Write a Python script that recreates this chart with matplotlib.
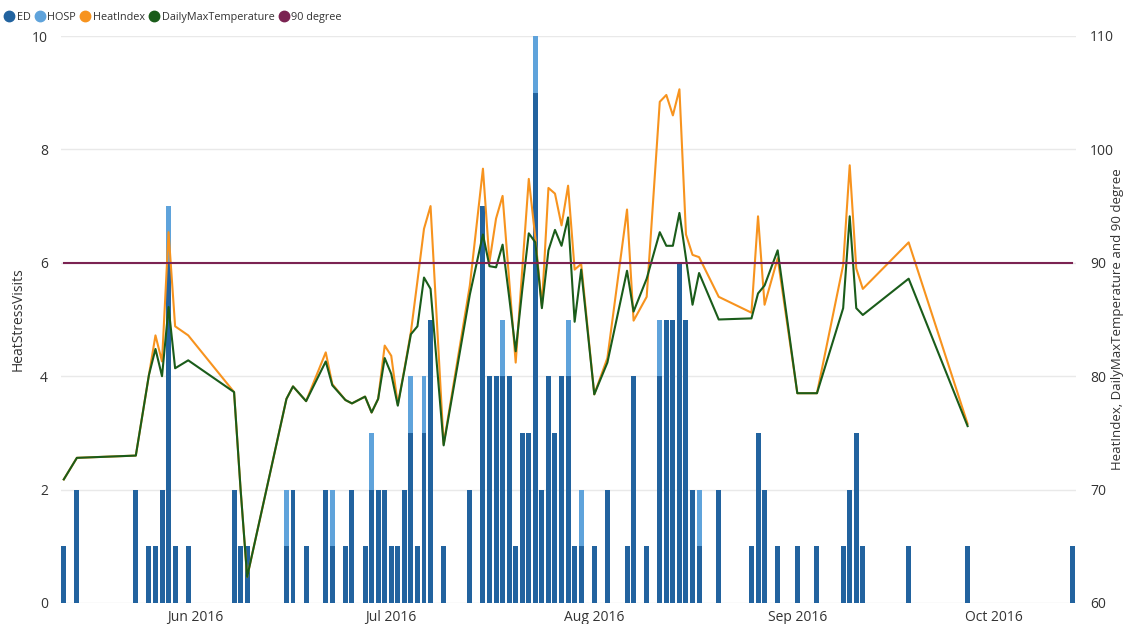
import numpy as np
import pandas as pd
import matplotlib
matplotlib.use("Agg")
import matplotlib.pyplot as plt
import matplotlib.dates as mdates
from matplotlib.lines import Line2D

plt.rcParams['font.family'] = ['Open Sans', 'DejaVu Sans']

dates = ["2016-05-12", "2016-05-14", "2016-05-23", "2016-05-25", "2016-05-26", "2016-05-27",
         "2016-05-28", "2016-05-29", "2016-05-31",
         "2016-06-07", "2016-06-08", "2016-06-09", "2016-06-15", "2016-06-16", "2016-06-18",
         "2016-06-21", "2016-06-22", "2016-06-24", "2016-06-25", "2016-06-27", "2016-06-28",
         "2016-06-29", "2016-06-30",
         "2016-07-01", "2016-07-02", "2016-07-03", "2016-07-04", "2016-07-05", "2016-07-06",
         "2016-07-07", "2016-07-09", "2016-07-13", "2016-07-15", "2016-07-16", "2016-07-17",
         "2016-07-18", "2016-07-19", "2016-07-20", "2016-07-21", "2016-07-22", "2016-07-23",
         "2016-07-24", "2016-07-25", "2016-07-26", "2016-07-27", "2016-07-28", "2016-07-29",
         "2016-07-30",
         "2016-08-01", "2016-08-03", "2016-08-06", "2016-08-07", "2016-08-09", "2016-08-11",
         "2016-08-12", "2016-08-13", "2016-08-14", "2016-08-15", "2016-08-16", "2016-08-17",
         "2016-08-20", "2016-08-25", "2016-08-26", "2016-08-27", "2016-08-29",
         "2016-09-01", "2016-09-04", "2016-09-08", "2016-09-09", "2016-09-10", "2016-09-11",
         "2016-09-18", "2016-09-27",
         "2016-10-13"]

ed = [1, 2, 2, 1, 1, 2, 6, 1, 1,
      2, 1, 1, 1, 2, 1, 2, 1, 1, 2, 1, 2, 2, 2,
      1, 1, 2, 3, 1, 3, 5, 1, 2, 7, 4, 4, 4, 4, 1, 3, 3, 9, 2, 4, 3, 4, 4, 1, 1,
      1, 2, 1, 4, 1, 4, 5, 5, 6, 5, 2, 1, 2, 1, 3, 2, 1,
      1, 1, 1, 2, 3, 1, 1, 1,
      1]

hosp = [0, 0, 0, 0, 0, 0, 1, 0, 0,
        0, 0, 0, 1, 0, 0, 0, 1, 0, 0, 0, 1, 0, 0,
        0, 0, 0, 1, 0, 1, 0, 0, 0, 0, 0, 0, 1, 0, 0, 0, 0, 1, 0, 0, 0, 0, 1, 0, 1,
        0, 0, 0, 0, 0, 1, 0, 0, 0, 0, 0, 1, 0, 0, 0, 0, 0,
        0, 0, 0, 0, 0, 0, 0, 0,
        0]

heat_index = [70.9, 72.8, 73.0, 80.1, 83.6, 81.3, 92.7, 84.4, 83.6,
              78.6, 70.0, 62.3, 78.0, 79.1, 77.8, 82.1, 79.3, 77.9, 77.6, 78.2, 76.8, 78.0, 82.7,
              81.8, 77.5, 80.6, 83.9, 88.4, 93.0, 95.0, 74.0, 88.0, 98.3, 90.1, 93.9, 95.9, 88.5,
              81.2, 89.4, 97.4, 92.2, 86.2, 96.6, 96.1, 93.3, 96.8, 89.4, 89.9,
              78.4, 81.6, 94.7, 84.9, 87.0, 104.2, 104.8, 103.0, 105.3, 92.5, 90.7, 90.5,
              87.0, 85.6, 94.1, 86.3, 90.4,
              78.5, 78.5, 89.8, 98.6, 89.5, 87.7, 91.8, 75.8,
              np.nan]

max_temp = [70.9, 72.8, 73.0, 80.1, 82.4, 80.0, 86.1, 80.7, 81.4,
            78.6, 70.0, 62.3, 78.0, 79.1, 77.8, 81.3, 79.2, 77.9, 77.6, 78.2, 76.8, 78.0, 81.6,
            80.2, 77.4, 80.5, 83.7, 84.4, 88.7, 87.7, 73.9, 87.2, 92.5, 89.7, 89.6, 91.6, 87.0,
            82.2, 87.6, 92.6, 91.8, 86.0, 91.1, 92.9, 91.5, 94.0, 84.8, 89.4,
            78.4, 81.2, 89.3, 85.7, 88.6, 92.7, 91.5, 91.5, 94.4, 90.4, 86.3, 89.1,
            85.0, 85.1, 87.3, 88.0, 91.1,
            78.5, 78.5, 86.0, 94.1, 86.0, 85.4, 88.6, 75.6,
            np.nan]

ninety = [90] * len(dates)

c_ed = "#22639f"
c_hosp = "#5fa3db"
c_hi = "#f7931e"
c_temp = "#1a5c1a"
c_90 = "#7b2352"

x = pd.to_datetime(dates)
ed = np.array(ed)
hosp = np.array(hosp)

fig = plt.figure(figsize=(11.25, 6.24), dpi=100)
ax = fig.add_axes([60.5 / 1125, 1 - 603 / 624, (1076 - 60.5) / 1125, (603 - 36) / 624])
ax2 = ax.twinx()

ax.bar(x, ed, width=0.76, color=c_ed, zorder=2)
ax.bar(x, hosp, width=0.76, bottom=ed, color=c_hosp, zorder=2)

ax2.plot(x, heat_index, color=c_hi, lw=1.5)
ax2.plot(x, max_temp, color=c_temp, lw=1.5)
ax2.plot(x, ninety, color=c_90, lw=1.5)

start = pd.Timestamp("2016-06-01")
ax.set_xlim(mdates.date2num(start) - 20.5, mdates.date2num(start) + 134.55)
ax.set_ylim(0, 10)
ax2.set_ylim(60, 110)
ax.set_yticks(np.arange(0, 11, 2))
ax2.set_yticks(np.arange(60, 111, 10))

ax.xaxis.set_major_locator(mdates.MonthLocator())
ax.xaxis.set_major_formatter(mdates.DateFormatter("%b %Y"))

ax.grid(axis="y", color="#e9e9e9", lw=1, zorder=0)
ax.set_axisbelow(True)
for a in (ax, ax2):
    for s in a.spines.values():
        s.set_visible(False)
    a.tick_params(length=0, labelsize=10, colors="#333333")
ax.tick_params(axis="y", pad=9)
ax.tick_params(axis="x", pad=5)
ax2.tick_params(axis="y", pad=10)

ax.set_ylabel("HeatStressVisits", fontsize=10, color="#333333")
ax.yaxis.label.set_verticalalignment("center")
ax.yaxis.set_label_coords((18 - 60.5) / 1015.5, 0.5)
ax2.set_ylabel("HeatIndex, DailyMaxTemperature and 90 degree", fontsize=9.5,
               color="#333333", rotation=90)
ax2.yaxis.label.set_verticalalignment("center")
ax2.yaxis.set_label_coords((1117 - 60.5) / 1015.5, 0.5)

names = ["ED", "HOSP", "HeatIndex", "DailyMaxTemperature", "90 degree"]
cols = [c_ed, c_hosp, c_hi, c_temp, c_90]
handles = [Line2D([], [], marker="o", ls="", color=c, markersize=7.5) for c in cols]
fig.legend(handles, names, loc="upper left", bbox_to_anchor=(-0.004, 0.996), ncol=5,
           frameon=False, fontsize=7.8, handletextpad=0.35, columnspacing=0.5,
           handlelength=0.7, labelcolor="#333333")

fig.savefig("out.png", dpi=100)
